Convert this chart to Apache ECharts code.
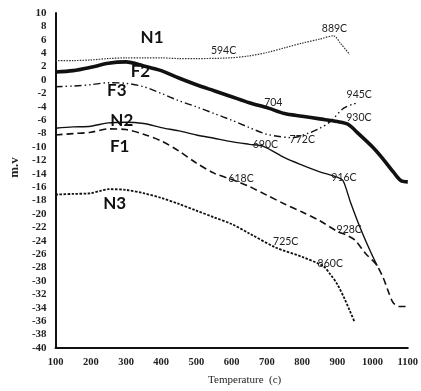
<!DOCTYPE html>
<html>
<head>
<meta charset="utf-8">
<script src="https://cdn.jsdelivr.net/npm/echarts@6/dist/echarts.min.js"></script>
<style>
  html, body { margin: 0; padding: 0; background: #fff; }
  #chart { width: 421px; height: 391px; }
</style>
</head>
<body>
<div id="chart"></div>
<script>
// ---- Thermal curves: temperature (°C) vs signal (mV) ----
const n1Temp = [100, 150, 200, 250, 300, 350, 400, 450, 500, 594, 650, 700, 750, 800, 850, 889, 910, 935];
const n1Mv   = [2.9, 2.9, 3.0, 3.2, 3.3, 3.3, 3.3, 3.2, 3.2, 3.3, 3.6, 4.1, 4.8, 5.5, 6.1, 6.6, 5.4, 3.8];

const f2Temp = [100, 150, 200, 250, 300, 350, 400, 450, 500, 550, 600, 650, 704, 750, 800, 850, 900, 930, 960, 1000, 1030, 1060, 1080, 1100];
const f2Mv   = [1.2, 1.4, 1.9, 2.5, 2.7, 2.1, 1.4, 0.3, -0.7, -1.6, -2.5, -3.4, -4.2, -5.0, -5.4, -5.8, -6.2, -6.6, -8.0, -10.0, -11.8, -13.8, -15.0, -15.2];

const f3Temp = [100, 150, 200, 250, 300, 350, 400, 450, 500, 550, 600, 650, 700, 772, 820, 850, 880, 918, 945, 960];
const f3Mv   = [-1.0, -0.9, -0.7, -0.4, -0.5, -1.0, -2.0, -3.1, -4.0, -5.0, -6.0, -7.1, -8.1, -8.6, -7.9, -7.2, -6.2, -4.2, -3.6, -3.4];

const n2Temp = [100, 150, 200, 250, 300, 350, 400, 450, 500, 550, 600, 650, 690, 750, 800, 850, 900, 916, 937, 966, 994, 1013];
const n2Mv   = [-7.2, -7.0, -6.9, -6.4, -6.3, -6.5, -7.1, -7.6, -8.2, -8.7, -9.2, -9.6, -9.9, -11.6, -12.7, -13.7, -14.5, -15.0, -18.2, -22.2, -25.6, -27.7];

const f1Temp = [100, 150, 200, 250, 300, 350, 400, 450, 500, 550, 618, 650, 700, 750, 800, 850, 900, 928, 950, 980, 1010, 1030, 1045, 1058, 1075, 1095];
const f1Mv   = [-8.2, -8.0, -7.8, -7.3, -7.4, -8.1, -9.1, -10.6, -12.4, -13.9, -15.2, -15.9, -17.2, -18.5, -19.7, -21.0, -22.6, -23.2, -23.9, -25.9, -27.5, -29.5, -31.6, -33.2, -33.8, -33.8];

const n3Temp = [100, 150, 200, 230, 250, 300, 350, 400, 450, 500, 550, 600, 650, 725, 800, 860, 880, 900, 920, 935, 948];
const n3Mv   = [-17.1, -17.0, -16.9, -16.5, -16.3, -16.4, -16.9, -17.6, -18.5, -19.5, -20.5, -21.5, -22.9, -25.0, -26.4, -27.8, -29.0, -30.5, -32.6, -34.4, -36.0];

// Temperatures called out on each curve
const n1Notes = [594, 889];
const f2Notes = [704, 930];
const f3Notes = [772, 945];
const n2Notes = [690, 916];
const f1Notes = [618, 928];
const n3Notes = [725, 860];

// Axis ranges and ticks
const xMin = 100, xMax = 1100, xStep = 100;
const yMin = -40, yMax = 10, yStep = 2;

// ---- Styling ----
const INK = '#111';
const styles = {
  N1: { width: 1.2, type: [1.5, 1.2], color: '#333' },
  F2: { width: 3.6, type: 'solid', color: INK },
  F3: { width: 1.4, type: [7, 3, 1.5, 3, 1.5, 3], color: INK },
  N2: { width: 1.4, type: 'solid', color: INK },
  F1: { width: 1.6, type: [7, 4], color: INK },
  N3: { width: 1.8, type: [2.5, 1.5], color: INK }
};
// Where each curve's name sits, in data units
const nameSpots = {
  N1: [374, 6.4], F2: [341, 1.2], F3: [274, -1.6],
  N2: [288, -6.0], F1: [282, -10.0], N3: [268, -18.5]
};
// Pixel nudges for the temperature call-outs
const noteNudge = {
  N1: { 594: [-6, -7], 889: [1, -7] },
  F2: { 704: [5, -6], 930: [11, -7] },
  F3: { 772: [10, 2], 945: [6, -10] },
  N2: { 690: [2, -2], 916: [1, -3] },
  F1: { 618: [3, -3], 928: [2, -6] },
  N3: { 725: [10, -6], 860: [7, -3] }
};
const noteText = (name, t) => (name === 'F2' && t === 704) ? '704' : t + 'C';

function makeSeries(name, temps, vals, notes) {
  const data = temps.map((t, i) => [t, vals[i]]);
  const marks = notes.map(t => {
    const idx = temps.indexOf(t);
    return {
      coord: [t, vals[idx]],
      label: {
        show: true, position: 'inside', formatter: noteText(name, t),
        offset: noteNudge[name][t],
        fontFamily: 'Lato', fontSize: 10.5, color: '#222'
      }
    };
  });
  marks.push({
    coord: nameSpots[name],
    label: {
      show: true, position: 'inside', formatter: name,
      fontFamily: 'Lato', fontWeight: 'bold', fontSize: 17, color: '#111'
    }
  });
  return {
    name, type: 'line', data, smooth: 0.3, showSymbol: false,
    lineStyle: styles[name], itemStyle: { color: styles[name].color },
    markPoint: {
      symbol: 'circle', symbolSize: 1,
      itemStyle: { color: 'rgba(0,0,0,0)' },
      data: marks, silent: true
    },
    z: name === 'F2' ? 3 : 2
  };
}

const axisFont = { fontFamily: 'Liberation Serif', fontWeight: 'bold', color: '#222' };

const chart = echarts.init(document.getElementById('chart'), null, { renderer: 'canvas' });
chart.setOption({
  animation: false,
  backgroundColor: '#fff',
  grid: { left: 51, right: 13, top: 13, bottom: 41, containLabel: false },
  xAxis: {
    type: 'value', min: xMin, max: xMax, interval: xStep,
    axisLine: { show: true, onZero: false, lineStyle: { color: INK, width: 2 } },
    axisTick: { show: false },
    splitLine: { show: false },
    axisLabel: Object.assign({ fontSize: 10.5, margin: 9, formatter: v => String(v) }, axisFont),
    name: 'Temperature  (c)', nameLocation: 'middle', nameGap: 27,
    nameTextStyle: { fontFamily: 'Liberation Serif', fontSize: 11, color: '#222', padding: [0, 0, 0, 26] }
  },
  yAxis: {
    type: 'value', min: yMin, max: yMax, interval: yStep,
    axisLine: { show: true, onZero: false, lineStyle: { color: INK, width: 2 } },
    axisTick: { show: false },
    splitLine: { show: false },
    axisLabel: Object.assign({ fontSize: 11, margin: 9, formatter: v => String(v) }, axisFont),
    name: 'm.v', nameLocation: 'middle', nameRotate: 90, nameGap: 28,
    nameTextStyle: { fontFamily: 'Liberation Serif', fontWeight: 'bold', fontSize: 13, color: '#222', padding: [0, 0, 0, 26] }
  },
  series: [
    makeSeries('N1', n1Temp, n1Mv, n1Notes),
    makeSeries('F2', f2Temp, f2Mv, f2Notes),
    makeSeries('F3', f3Temp, f3Mv, f3Notes),
    makeSeries('N2', n2Temp, n2Mv, n2Notes),
    makeSeries('F1', f1Temp, f1Mv, f1Notes),
    makeSeries('N3', n3Temp, n3Mv, n3Notes)
  ]
});
</script>
</body>
</html>
